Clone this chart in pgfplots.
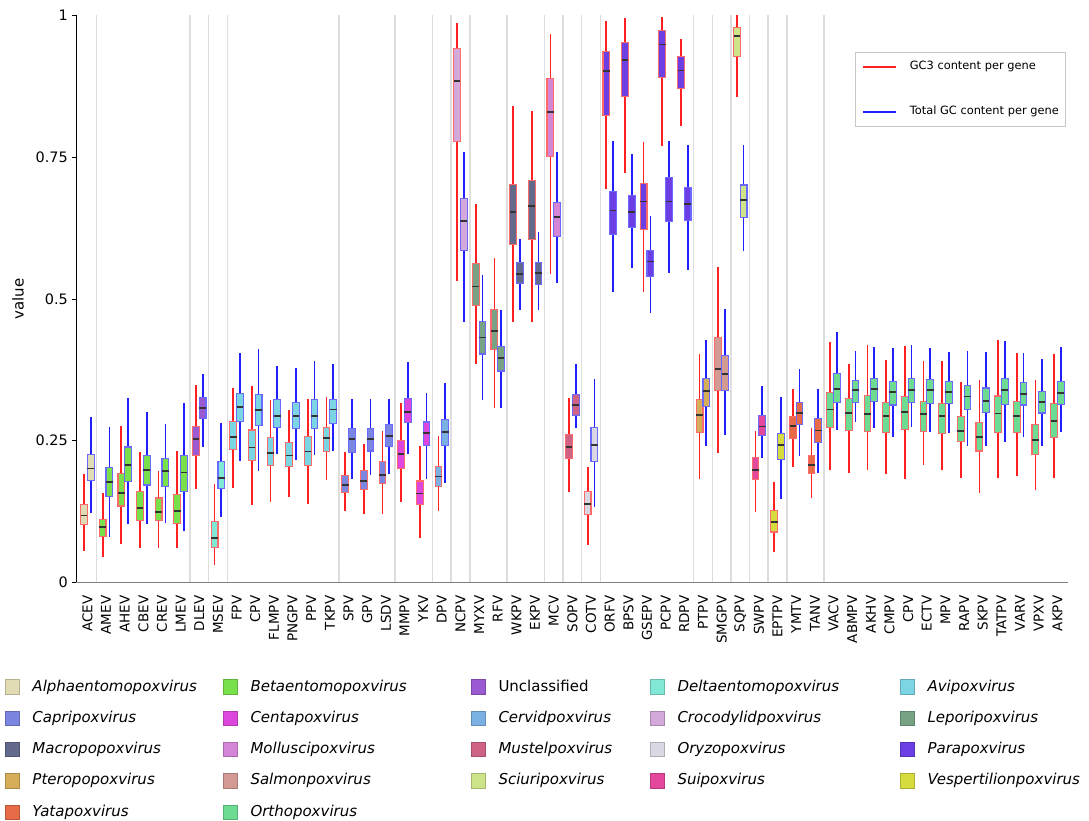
\documentclass[border=0pt]{standalone}
\usepackage{fontspec}
\setmainfont{DejaVu Sans}
\usepackage{pgfplots}
\pgfplotsset{compat=1.18}
\usepgfplotslibrary{statistics}

\definecolor{cAlpha}{HTML}{E1DCB4}
\definecolor{cBeta}{HTML}{77E04A}
\definecolor{cUncl}{HTML}{9C5AD2}
\definecolor{cDelta}{HTML}{82E8D6}
\definecolor{cAvi}{HTML}{7CD5E2}
\definecolor{cCapri}{HTML}{7B86E0}
\definecolor{cCenta}{HTML}{DD47DD}
\definecolor{cCervid}{HTML}{7AB0E2}
\definecolor{cCroc}{HTML}{D3A8DA}
\definecolor{cLepori}{HTML}{77A384}
\definecolor{cMacro}{HTML}{636A8C}
\definecolor{cMollus}{HTML}{D585D6}
\definecolor{cMustel}{HTML}{CE6386}
\definecolor{cOryzo}{HTML}{DAD9E3}
\definecolor{cPara}{HTML}{6C3FE5}
\definecolor{cPtero}{HTML}{D6AE5A}
\definecolor{cSalmon}{HTML}{D39A94}
\definecolor{cSciuri}{HTML}{CDE48A}
\definecolor{cSui}{HTML}{E4489C}
\definecolor{cVesper}{HTML}{D6DC3D}
\definecolor{cYata}{HTML}{E76B46}
\definecolor{cOrtho}{HTML}{6DDC92}
\definecolor{whred}{HTML}{FF2020}
\definecolor{whblue}{HTML}{2020FF}
\definecolor{boxred}{HTML}{FF6A6A}
\definecolor{boxblue}{HTML}{6A6AFF}
\definecolor{medc}{HTML}{333333}

% red (GC3) box: pos, fill, lower whisker, q1, median, q3, upper whisker
\newcommand{\rb}[7]{\addplot[forget plot,
  boxplot/every box/.style={draw=boxred, fill=#2, line width=1.1pt},
  boxplot/every whisker/.style={draw=whred, line width=1.7pt},
  boxplot/every median/.style={draw=medc, line width=1.8pt},
  boxplot prepared={draw direction=y, draw position={#1-0.18}, lower whisker=#3, lower quartile=#4,
  median=#5, upper quartile=#6, upper whisker=#7, box extend=0.36, whisker extend=0}]
  coordinates {};}
% blue (total GC) box
\newcommand{\bb}[7]{\addplot[forget plot,
  boxplot/every box/.style={draw=boxblue, fill=#2, line width=1.1pt},
  boxplot/every whisker/.style={draw=whblue, line width=1.7pt},
  boxplot/every median/.style={draw=medc, line width=1.8pt},
  boxplot prepared={draw direction=y, draw position={#1+0.18}, lower whisker=#3, lower quartile=#4,
  median=#5, upper quartile=#6, upper whisker=#7, box extend=0.36, whisker extend=0}]
  coordinates {};}

\pgfplotsset{legcol/.style={hide axis, scale only axis, width=1pt, height=1pt,
  xmin=0, xmax=1, ymin=0, ymax=1, anchor=north west,
  legend style={at={(0,1)}, anchor=north west, draw=none, fill=none, inner sep=0pt,
    row sep=16.1pt, column sep=12.5pt,
    nodes={inner sep=0pt, text height=11.5pt, text depth=3.5pt,
      font=\fontsize{15}{18}\selectfont\itshape},
    cells={anchor=west}},
  legend image code/.code={\draw[##1, line width=0.8pt] (0pt,-7.2pt) rectangle (14pt,7.2pt);}}}

\begin{document}
\begin{tikzpicture}
\begin{axis}[
  at={(0pt,0pt)}, anchor=south west,
  scale only axis, width=992pt, height=567pt,
  xmin=-0.61, xmax=52.57, ymin=0, ymax=1,
  boxplot/draw direction=y,
  axis x line*=bottom, axis y line*=left,
  x axis line style={draw=black!50, line width=1.5pt},
  y axis line style={draw=black, line width=0.9pt},
  xtick={0,...,52},
  xticklabels={ACEV,AMEV,AHEV,CBEV,CREV,LMEV,DLEV,MSEV,FPV,CPV,FLMPV,PNGPV,PPV,TKPV,SPV,GPV,LSDV,MMPV,YKV,DPV,NCPV,MYXV,RFV,WKPV,EKPV,MCV,SOPV,COTV,ORFV,BPSV,GSEPV,PCPV,RDPV,PTPV,SMGPV,SQPV,SWPV,EPTPV,YMTV,TANV,VACV,ABMPV,AKHV,CMPV,CPV,ECTV,MPV,RAPV,SKPV,TATPV,VARV,VPXV,AKPV},
  xtick style={draw=none},
  ytick={0,0.25,0.5,0.75,1},
  yticklabels={0,0.25,0.5,0.75,1},
  ytick style={draw=black, line width=0.9pt},
  tick align=outside, major tick length=4pt,
  xticklabel style={rotate=90, anchor=east, inner sep=0pt, font=\fontsize{13.5}{16}\selectfont},
  xticklabel shift=9pt,
  yticklabel style={inner sep=0pt, font=\fontsize{14.4}{17}\selectfont},
  yticklabel shift=4pt,
  extra x ticks={0.5,5.5,6.5,7.5,13.5,16.5,18.5,19.5,20.5,22.5,24.5,25.5,26.5,27.5,32.5,33.5,34.5,35.5,36.5,37.5,39.5},
  extra x tick labels={},
  extra x tick style={grid=major, major grid style={draw=black!13, line width=1.5pt}, tick style={draw=none}},
  ylabel={value},
  ylabel style={at={(axis description cs:-0.0585,0.5)}, anchor=center, font=\fontsize{15}{18}\selectfont},
]
\rb{0}{cAlpha}{0.055}{0.103}{0.118}{0.138}{0.191}
\bb{0}{cAlpha}{0.123}{0.180}{0.201}{0.226}{0.292}
\rb{1}{cBeta}{0.045}{0.081}{0.098}{0.111}{0.157}
\bb{1}{cBeta}{0.081}{0.151}{0.177}{0.203}{0.274}
\rb{2}{cBeta}{0.068}{0.135}{0.158}{0.192}{0.276}
\bb{2}{cBeta}{0.104}{0.178}{0.207}{0.239}{0.326}
\rb{3}{cBeta}{0.061}{0.109}{0.131}{0.160}{0.230}
\bb{3}{cBeta}{0.103}{0.172}{0.198}{0.224}{0.300}
\rb{4}{cBeta}{0.061}{0.109}{0.125}{0.149}{0.197}
\bb{4}{cBeta}{0.105}{0.169}{0.196}{0.218}{0.280}
\rb{5}{cBeta}{0.060}{0.104}{0.126}{0.155}{0.232}
\bb{5}{cBeta}{0.091}{0.161}{0.194}{0.224}{0.317}
\rb{6}{cUncl}{0.165}{0.224}{0.253}{0.275}{0.349}
\bb{6}{cUncl}{0.239}{0.290}{0.308}{0.326}{0.368}
\rb{7}{cDelta}{0.030}{0.061}{0.078}{0.108}{0.174}
\bb{7}{cDelta}{0.116}{0.165}{0.184}{0.214}{0.282}
\rb{8}{cAvi}{0.167}{0.234}{0.257}{0.284}{0.343}
\bb{8}{cAvi}{0.214}{0.284}{0.309}{0.334}{0.405}
\rb{9}{cAvi}{0.136}{0.215}{0.238}{0.269}{0.346}
\bb{9}{cAvi}{0.197}{0.277}{0.304}{0.331}{0.412}
\rb{10}{cAvi}{0.142}{0.206}{0.228}{0.255}{0.322}
\bb{10}{cAvi}{0.226}{0.273}{0.294}{0.322}{0.382}
\rb{11}{cAvi}{0.150}{0.205}{0.224}{0.247}{0.305}
\bb{11}{cAvi}{0.216}{0.272}{0.293}{0.317}{0.378}
\rb{12}{cAvi}{0.138}{0.206}{0.231}{0.258}{0.324}
\bb{12}{cAvi}{0.224}{0.272}{0.294}{0.322}{0.391}
\rb{13}{cAvi}{0.180}{0.231}{0.255}{0.274}{0.328}
\bb{13}{cAvi}{0.232}{0.280}{0.305}{0.323}{0.385}
\rb{14}{cCapri}{0.126}{0.159}{0.172}{0.189}{0.230}
\bb{14}{cCapri}{0.182}{0.230}{0.253}{0.272}{0.324}
\rb{15}{cCapri}{0.120}{0.164}{0.179}{0.198}{0.245}
\bb{15}{cCapri}{0.189}{0.232}{0.253}{0.272}{0.324}
\rb{16}{cCapri}{0.120}{0.174}{0.189}{0.213}{0.268}
\bb{16}{cCapri}{0.191}{0.240}{0.259}{0.279}{0.324}
\rb{17}{cCenta}{0.142}{0.201}{0.227}{0.251}{0.317}
\bb{17}{cCenta}{0.226}{0.282}{0.300}{0.325}{0.388}
\rb{18}{cCenta}{0.078}{0.138}{0.157}{0.179}{0.240}
\bb{18}{cCenta}{0.182}{0.242}{0.263}{0.283}{0.334}
\rb{19}{cCervid}{0.126}{0.169}{0.187}{0.204}{0.258}
\bb{19}{cCervid}{0.176}{0.242}{0.265}{0.288}{0.351}
\rb{20}{cCroc}{0.532}{0.777}{0.884}{0.941}{0.986}
\bb{20}{cCroc}{0.459}{0.586}{0.637}{0.678}{0.760}
\rb{21}{cLepori}{0.385}{0.488}{0.522}{0.562}{0.667}
\bb{21}{cLepori}{0.322}{0.403}{0.432}{0.461}{0.542}
\rb{22}{cLepori}{0.307}{0.411}{0.443}{0.482}{0.572}
\bb{22}{cLepori}{0.308}{0.373}{0.396}{0.417}{0.481}
\rb{23}{cMacro}{0.459}{0.596}{0.653}{0.702}{0.841}
\bb{23}{cMacro}{0.481}{0.528}{0.544}{0.565}{0.606}
\rb{24}{cMacro}{0.459}{0.605}{0.664}{0.709}{0.832}
\bb{24}{cMacro}{0.481}{0.526}{0.546}{0.564}{0.618}
\rb{25}{cMollus}{0.544}{0.751}{0.830}{0.889}{0.968}
\bb{25}{cMollus}{0.529}{0.611}{0.644}{0.670}{0.760}
\rb{26}{cMustel}{0.160}{0.218}{0.239}{0.261}{0.326}
\bb{26}{cMustel}{0.272}{0.295}{0.313}{0.331}{0.386}
\rb{27}{cOryzo}{0.066}{0.120}{0.139}{0.161}{0.204}
\bb{27}{cOryzo}{0.134}{0.214}{0.243}{0.273}{0.359}
\rb{28}{cPara}{0.694}{0.824}{0.902}{0.937}{0.990}
\bb{28}{cPara}{0.513}{0.613}{0.656}{0.689}{0.778}
\rb{29}{cPara}{0.722}{0.857}{0.921}{0.953}{0.995}
\bb{29}{cPara}{0.554}{0.626}{0.653}{0.682}{0.756}
\rb{30}{cPara}{0.513}{0.622}{0.672}{0.704}{0.776}
\bb{30}{cPara}{0.476}{0.539}{0.566}{0.586}{0.646}
\rb{31}{cPara}{0.770}{0.891}{0.949}{0.973}{0.998}
\bb{31}{cPara}{0.546}{0.637}{0.672}{0.715}{0.778}
\rb{32}{cPara}{0.805}{0.871}{0.903}{0.928}{0.959}
\bb{32}{cPara}{0.551}{0.638}{0.668}{0.697}{0.772}
\rb{33}{cPtero}{0.182}{0.265}{0.296}{0.322}{0.403}
\bb{33}{cPtero}{0.241}{0.311}{0.338}{0.359}{0.428}
\rb{34}{cSalmon}{0.229}{0.339}{0.377}{0.432}{0.557}
\bb{34}{cSalmon}{0.261}{0.338}{0.368}{0.400}{0.482}
\rb{35}{cSciuri}{0.857}{0.927}{0.964}{0.979}{1.0}
\bb{35}{cSciuri}{0.585}{0.643}{0.674}{0.701}{0.772}
\rb{36}{cSui}{0.124}{0.182}{0.199}{0.220}{0.268}
\bb{36}{cSui}{0.219}{0.259}{0.275}{0.295}{0.346}
\rb{37}{cVesper}{0.054}{0.089}{0.107}{0.127}{0.178}
\bb{37}{cVesper}{0.147}{0.217}{0.243}{0.263}{0.327}
\rb{38}{cYata}{0.203}{0.254}{0.276}{0.292}{0.341}
\bb{38}{cYata}{0.223}{0.278}{0.299}{0.317}{0.376}
\rb{39}{cYata}{0.149}{0.193}{0.207}{0.224}{0.272}
\bb{39}{cYata}{0.193}{0.247}{0.268}{0.289}{0.341}
\rb{40}{cOrtho}{0.199}{0.273}{0.305}{0.335}{0.425}
\bb{40}{cOrtho}{0.269}{0.318}{0.341}{0.368}{0.441}
\rb{41}{cOrtho}{0.193}{0.268}{0.299}{0.324}{0.386}
\bb{41}{cOrtho}{0.283}{0.318}{0.339}{0.357}{0.409}
\rb{42}{cOrtho}{0.199}{0.266}{0.297}{0.330}{0.418}
\bb{42}{cOrtho}{0.273}{0.320}{0.341}{0.359}{0.415}
\rb{43}{cOrtho}{0.191}{0.264}{0.293}{0.317}{0.393}
\bb{43}{cOrtho}{0.256}{0.313}{0.336}{0.355}{0.414}
\rb{44}{cOrtho}{0.183}{0.270}{0.301}{0.328}{0.417}
\bb{44}{cOrtho}{0.275}{0.318}{0.339}{0.359}{0.418}
\rb{45}{cOrtho}{0.207}{0.267}{0.297}{0.320}{0.391}
\bb{45}{cOrtho}{0.266}{0.316}{0.339}{0.358}{0.414}
\rb{46}{cOrtho}{0.199}{0.263}{0.294}{0.315}{0.391}
\bb{46}{cOrtho}{0.263}{0.316}{0.336}{0.355}{0.406}
\rb{47}{cOrtho}{0.184}{0.249}{0.267}{0.292}{0.354}
\bb{47}{cOrtho}{0.241}{0.305}{0.328}{0.348}{0.409}
\rb{48}{cOrtho}{0.158}{0.232}{0.257}{0.282}{0.357}
\bb{48}{cOrtho}{0.241}{0.300}{0.320}{0.343}{0.407}
\rb{49}{cOrtho}{0.185}{0.264}{0.298}{0.329}{0.427}
\bb{49}{cOrtho}{0.247}{0.314}{0.339}{0.359}{0.426}
\rb{50}{cOrtho}{0.188}{0.264}{0.294}{0.319}{0.404}
\bb{50}{cOrtho}{0.256}{0.313}{0.333}{0.352}{0.404}
\rb{51}{cOrtho}{0.163}{0.225}{0.251}{0.278}{0.357}
\bb{51}{cOrtho}{0.241}{0.299}{0.319}{0.337}{0.395}
\rb{52}{cOrtho}{0.184}{0.256}{0.285}{0.316}{0.403}
\bb{52}{cOrtho}{0.265}{0.314}{0.334}{0.355}{0.415}
\end{axis}

% inner legend (GC3 / total GC)
\begin{axis}[hide axis, scale only axis, width=1pt, height=1pt,
  xmin=0, xmax=1, ymin=0, ymax=1, anchor=north west, at={(778.7pt,530.8pt)},
  legend style={at={(0,1)}, anchor=north west,
    draw=black!22, line width=0.9pt, fill=white, inner xsep=7pt, inner ysep=9pt,
    row sep=33.7pt, column sep=13pt,
    nodes={inner sep=0pt, text height=8.7pt, text depth=2.7pt, font=\fontsize{11.4}{13}\selectfont},
    cells={anchor=west}},
  legend image code/.code={\draw[#1, line width=1.7pt] (0pt,0pt) -- (33pt,0pt);}]
\addlegendimage{draw=whred}\addlegendentry{GC3 content per gene}
\addlegendimage{draw=whblue}\addlegendentry{Total GC content per gene}
\end{axis}

\begin{axis}[legcol, at={(-71pt,-96.7pt)}]
\addlegendimage{fill=cAlpha, draw=cAlpha!80!black}\addlegendentry{Alphaentomopoxvirus}
\addlegendimage{fill=cCapri, draw=cCapri!80!black}\addlegendentry{Capripoxvirus}
\addlegendimage{fill=cMacro, draw=cMacro!80!black}\addlegendentry{Macropopoxvirus}
\addlegendimage{fill=cPtero, draw=cPtero!80!black}\addlegendentry{Pteropopoxvirus}
\addlegendimage{fill=cYata, draw=cYata!80!black}\addlegendentry{Yatapoxvirus}
\end{axis}
\begin{axis}[legcol, at={(147pt,-96.7pt)}]
\addlegendimage{fill=cBeta, draw=cBeta!80!black}\addlegendentry{Betaentomopoxvirus}
\addlegendimage{fill=cCenta, draw=cCenta!80!black}\addlegendentry{Centapoxvirus}
\addlegendimage{fill=cMollus, draw=cMollus!80!black}\addlegendentry{Molluscipoxvirus}
\addlegendimage{fill=cSalmon, draw=cSalmon!80!black}\addlegendentry{Salmonpoxvirus}
\addlegendimage{fill=cOrtho, draw=cOrtho!80!black}\addlegendentry{Orthopoxvirus}
\end{axis}
\begin{axis}[legcol, at={(395pt,-96.7pt)}]
\addlegendimage{fill=cUncl, draw=cUncl!80!black}\addlegendentry{\upshape Unclassified}
\addlegendimage{fill=cCervid, draw=cCervid!80!black}\addlegendentry{Cervidpoxvirus}
\addlegendimage{fill=cMustel, draw=cMustel!80!black}\addlegendentry{Mustelpoxvirus}
\addlegendimage{fill=cSciuri, draw=cSciuri!80!black}\addlegendentry{Sciuripoxvirus}
\end{axis}
\begin{axis}[legcol, at={(574pt,-96.7pt)}]
\addlegendimage{fill=cDelta, draw=cDelta!80!black}\addlegendentry{Deltaentomopoxvirus}
\addlegendimage{fill=cCroc, draw=cCroc!80!black}\addlegendentry{Crocodylidpoxvirus}
\addlegendimage{fill=cOryzo, draw=cOryzo!80!black}\addlegendentry{Oryzopoxvirus}
\addlegendimage{fill=cSui, draw=cSui!80!black}\addlegendentry{Suipoxvirus}
\end{axis}
\begin{axis}[legcol, at={(824pt,-96.7pt)}]
\addlegendimage{fill=cAvi, draw=cAvi!80!black}\addlegendentry{Avipoxvirus}
\addlegendimage{fill=cLepori, draw=cLepori!80!black}\addlegendentry{Leporipoxvirus}
\addlegendimage{fill=cPara, draw=cPara!80!black}\addlegendentry{Parapoxvirus}
\addlegendimage{fill=cVesper, draw=cVesper!80!black}\addlegendentry{Vespertilionpoxvirus}
\end{axis}
\pgfresetboundingbox
\path[use as bounding box] (-76pt,-238.5pt) rectangle (1013pt,582.5pt);
\end{tikzpicture}
\end{document}
